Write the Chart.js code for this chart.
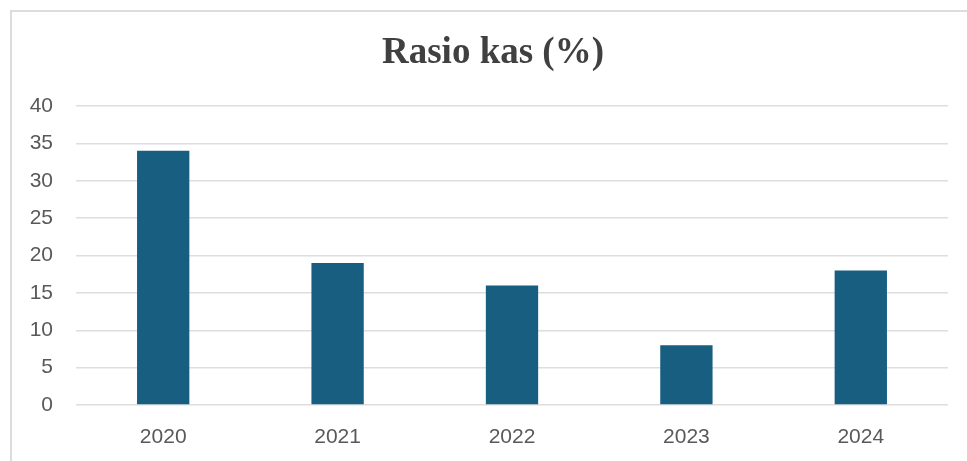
<!DOCTYPE html>
<html>
<head>
<meta charset="utf-8">
<script src="https://cdn.jsdelivr.net/npm/chart.js@4"></script>
<style>
html,body{margin:0;padding:0;overflow:hidden;background:#fff;width:967px;height:461px;}
#frame{position:absolute;left:10px;top:10px;width:1000px;height:1000px;border:2px solid #dcdcdc;box-sizing:border-box;}
#wrap{position:absolute;left:0;top:0;width:986px;height:461px;}
</style>
</head>
<body>
<div id="frame"></div>
<div id="wrap"><canvas id="c" width="986" height="461"></canvas></div>
<script>
const categories = ["2020", "2021", "2022", "2023", "2024"];
const cashRatio = [34, 19, 16, 8, 18];
const yTicks = [0, 5, 10, 15, 20, 25, 30, 35, 40];
const chartTitle = "Rasio kas (%)";

const shiftTitle = {
  id: 'shiftTitle',
  afterLayout(chart) {
    if (chart.titleBlock) { chart.titleBlock.left = 38; }
  }
};

new Chart(document.getElementById('c'), {
  type: 'bar',
  data: {
    labels: categories,
    datasets: [{
      data: cashRatio,
      backgroundColor: '#175e80',
      barPercentage: 0.3,
      categoryPercentage: 1
    }]
  },
  plugins: [shiftTitle],
  options: {
    responsive: false,
    animation: false,
    layout: { padding: { left: 0, right: 38, top: 0, bottom: 0 } },
    plugins: {
      legend: { display: false },
      tooltip: { enabled: false },
      title: {
        display: true,
        text: chartTitle,
        color: '#404040',
        font: { family: '"Liberation Serif", "Times New Roman", serif', size: 37, weight: 'bold', lineHeight: 1.2 },
        padding: { top: 31, bottom: 30.6 }
      }
    },
    scales: {
      x: {
        grid: { display: false, drawTicks: false },
        border: { display: false },
        ticks: { color: '#595959', font: { family: '"Liberation Sans", Arial, sans-serif', size: 21 }, padding: 20 },
        afterFit: s => { s.height = 56; }
      },
      y: {
        min: 0, max: 40,
        afterBuildTicks: s => { s.ticks = yTicks.map(v => ({ value: v })); },
        grid: { color: '#dedede', lineWidth: 1.5, drawTicks: false },
        border: { display: false },
        ticks: { color: '#595959', font: { family: '"Liberation Sans", Arial, sans-serif', size: 21 }, padding: 23 },
        afterFit: s => { s.width = 76; }
      }
    }
  }
});
</script>
</body>
</html>
